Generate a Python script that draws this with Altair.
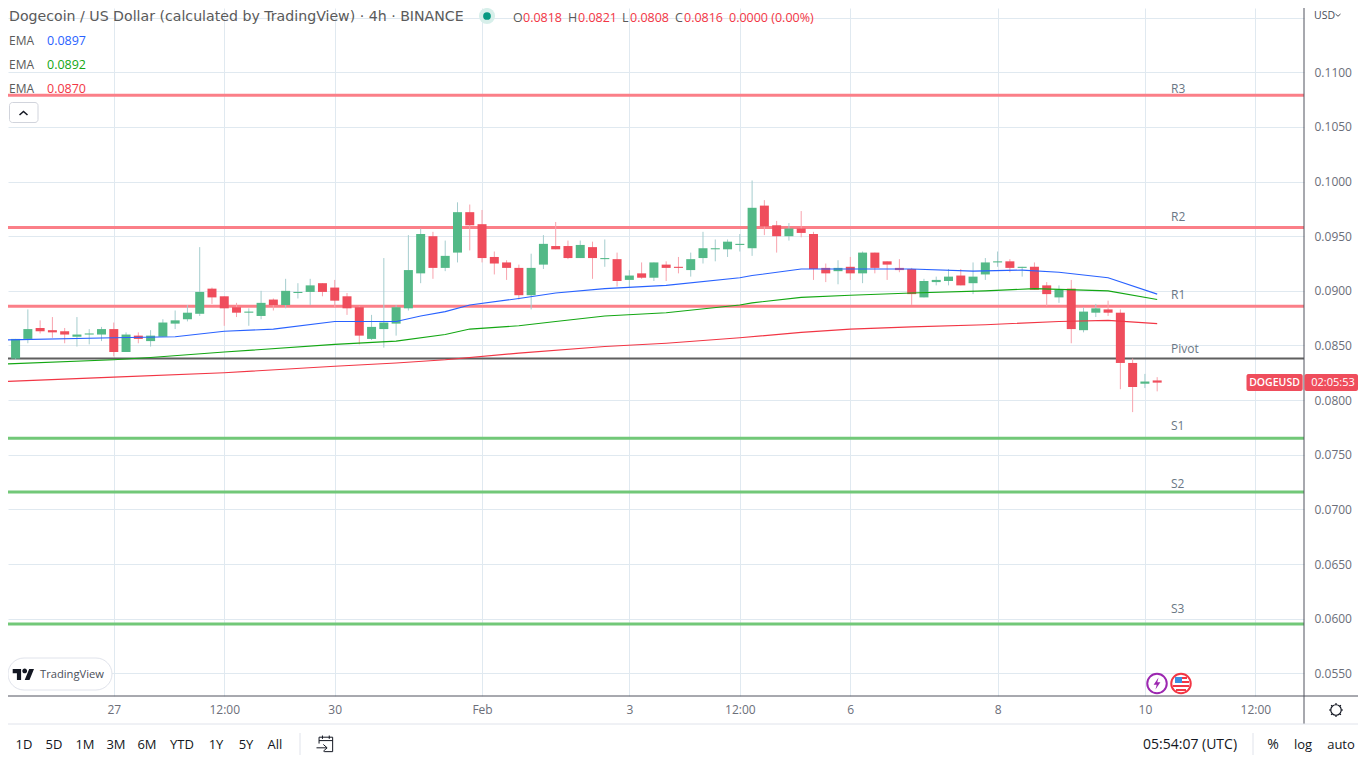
import altair as alt
import pandas as pd

FONT = "Open Sans"

# ---- OHLC (4h candles) ----
opens = [.0836,.0838,.0856,.0866,.0864,.0863,.0858,.0860,.0860,.0865,.0844,.0859,.0854,.0858,.0870,.0874,.0879,.0902,.0895,.0885,
         .0880,.0877,.0892,.0887,.0898,.0899,.0907,.0903,.0895,.0885,.0856,.0865,.0870,.0884,.0916,.0950,.0921,.0935,.0972,.0961,
         .0931,.0926,.0921,.0896,.0924,.0941,.0941,.0930,.0940,.0929,.0929,.0910,.0916,.0912,.0924,.0922,.0919,.0930,.0938,.0938,
         .0942,.0939,.0978,.0960,.0950,.0957,.0952,.0921,.0918,.0922,.0916,.0935,.0927,.0921,.0920,.0894,.0908,.0909,.0914,.0907,
         .0915,.0926,.0927,.0921,.0922,.0905,.0894,.0902,.0864,.0880,.0883,.0880,.0834,.0815,.0818]
highs = [.0851,.0856,.0883,.0873,.0876,.0866,.0876,.0865,.0867,.0871,.0862,.0862,.0864,.0874,.0882,.0887,.0940,.0903,.0895,.0889,
         .0884,.0900,.0893,.0911,.0907,.0911,.0907,.0910,.0898,.0886,.0878,.0930,.0887,.0951,.0957,.0954,.0946,.0981,.0979,.0974,
         .0936,.0928,.0924,.0934,.0951,.0963,.0946,.0946,.0945,.0947,.0935,.0919,.0926,.0926,.0927,.0931,.0935,.0954,.0947,.0947,
         .0952,.1001,.0983,.0964,.0962,.0973,.0954,.0925,.0928,.0931,.0936,.0935,.0927,.0929,.0921,.0911,.0913,.0920,.0920,.0926,
         .0930,.0936,.0929,.0922,.0926,.0908,.0905,.0910,.0885,.0888,.0891,.0883,.0838,.0824,.0821]
lows = [.0828,.0837,.0852,.0861,.0857,.0852,.0849,.0851,.0854,.0840,.0844,.0852,.0849,.0858,.0865,.0872,.0877,.0888,.0868,.0876,
        .0868,.0874,.0882,.0884,.0893,.0887,.0895,.0885,.0878,.0851,.0855,.0848,.0859,.0882,.0907,.0911,.0918,.0926,.0937,.0926,
        .0915,.0910,.0892,.0883,.0920,.0938,.0929,.0930,.0911,.0922,.0904,.0903,.0911,.0909,.0909,.0916,.0913,.0925,.0927,.0931,
        .0936,.0932,.0951,.0935,.0946,.0949,.0910,.0908,.0906,.0910,.0907,.0916,.0910,.0917,.0887,.0894,.0905,.0905,.0905,.0897,
        .0910,.0922,.0917,.0913,.0901,.0886,.0889,.0852,.0862,.0876,.0877,.0810,.0789,.0811,.0808]
closes = [.0839,.0856,.0865,.0863,.0862,.0860,.0860,.0861,.0865,.0844,.0860,.0856,.0859,.0871,.0873,.0880,.0899,.0894,.0884,.0880,
          .0881,.0889,.0887,.0900,.0899,.0905,.0899,.0891,.0884,.0859,.0867,.0871,.0885,.0919,.0952,.0921,.0932,.0972,.0960,.0930,
          .0925,.0921,.0896,.0921,.0943,.0938,.0930,.0942,.0930,.0930,.0909,.0914,.0912,.0926,.0921,.0921,.0929,.0939,.0939,.0945,
          .0943,.0976,.0959,.0950,.0957,.0953,.0920,.0916,.0921,.0916,.0935,.0921,.0924,.0919,.0897,.0909,.0910,.0913,.0905,.0913,
          .0926,.0927,.0921,.0922,.0901,.0897,.0901,.0865,.0881,.0884,.0880,.0834,.0812,.0817,.0816]

# ---- EMA lines: readings at single candles ----
ema_blue_i = [0,9,14,18,22,27,32,34,36,38,42,45,49,54,60,61,65,68,74,79,83,86,90,94]
ema_blue_v = [.0855,.0857,.0858,.0863,.0865,.0872,.0872,.0877,.0881,.0887,.0893,.0898,.0902,.0905,.0912,.0914,.0920,.0920,.0920,.0918,.0919,.0917,.0912,.0897]
ema_green_i = [0,9,12,18,27,32,36,38,42,45,49,54,60,61,65,69,74,80,84,90,94]
ema_green_v = [.0833,.0837,.0839,.0844,.0851,.0854,.0860,.0865,.0868,.0872,.0877,.0880,.0887,.0889,.0894,.0896,.0898,.0900,.0902,.0900,.0892]
ema_red_i = [0,9,18,27,32,36,42,49,54,60,65,69,74,80,86,90,94]
ema_red_v = [.0817,.0821,.0825,.0831,.0834,.0837,.0843,.0849,.0852,.0857,.0862,.0865,.0867,.0869,.0872,.0873,.0870]

# ---- pivot levels ----
res_names = ["R3", "R2", "R1"]
res_values = [.1079, .0958, .0886]
pivot_value = [.0838]
sup_names = ["S1", "S2", "S3"]
sup_values = [.0765, .0716, .0595]
label_names = ["R3", "R2", "R1", "Pivot", "S1", "S2", "S3"]
label_prices = [.10847, .09676, .08962, .08468, .07763, .07232, .06089]

# ---- axes ----
price_ticks = [.115, .11, .105, .10, .095, .09, .085, .08, .075, .07, .065, .06, .055]
time_idx = [9, 18, 27, 39, 51, 60, 69, 81, 93, 102]
time_lab = ["27", "12:00", "30", "Feb", "3", "12:00", "6", "8", "10", "12:00"]

ranges = ["1D", "5D", "1M", "3M", "6M", "YTD", "1Y", "5Y", "All"]
range_x = [24, 54, 85, 116, 147, 182, 216, 246, 275]

UP, DOWN, UPW, DOWNW = "#53b987", "#ef4d5c", "#a5cdce", "#f8a3ad"
LAB = "#6b6e79"
DARK = "#131722"
GRID = "#e0e9f0"

df = pd.DataFrame({"i": list(range(len(opens))), "o": opens, "h": highs, "l": lows, "c": closes})
df["dir"] = ["up" if c >= o else "down" for o, c in zip(opens, closes)]

xs = alt.Scale(domain=[0.383, 105.96], nice=False, zero=False, padding=0)
ys = alt.Scale(domain=[0.05292, 0.115885], nice=False, zero=False, padding=0)
one = alt.Data(values=[{"k": 1}])


def T(x, y, s, color=LAB, size=12, align="left", weight="normal", font=FONT):
    return alt.Chart(one).mark_text(text=s, color=color, fontSize=size, align=align, baseline="middle",
                                    fontWeight=weight, font=font).encode(x=alt.value(x - 8), y=alt.value(y - 8))


def R(x1, y1, x2, y2, **kw):
    return alt.Chart(one).mark_rect(**kw).encode(x=alt.value(x1 - 8), x2=alt.value(x2 - 8),
                                                 y=alt.value(y1 - 8), y2=alt.value(y2 - 8))


def P(x, y, shape, size, **kw):
    return alt.Chart(one).mark_point(shape=shape, size=size, **kw).encode(x=alt.value(x - 8), y=alt.value(y - 8))


def L(x1, y1, x2, y2, color, w=1):
    return alt.Chart(one).mark_rule(color=color, strokeWidth=w).encode(
        x=alt.value(x1 - 8), x2=alt.value(x2 - 8), y=alt.value(y1 - 8), y2=alt.value(y2 - 8))


label_expr = "{" + ",".join(f"'{i}':'{t}'" for i, t in zip(time_idx, time_lab)) + "}[datum.value]"
x_axis = alt.Axis(values=time_idx, labelExpr=label_expr, title=None, domain=False, ticks=False,
                  labelPadding=8, labelColor=LAB, labelFontSize=12, labelFont=FONT, labelOverlap=False,
                  labelFlush=False, grid=True, gridColor=GRID, gridWidth=1)
y_axis = alt.Axis(orient="right", values=price_ticks, title=None, domain=False, ticks=False,
                  labelExpr="datum.value > 0.114 ? '' : format(datum.value, '.4f')", labelPadding=10,
                  labelColor=LAB, labelFontSize=12, labelFont=FONT, labelOverlap=False, labelFlush=False,
                  grid=True, gridColor=GRID, gridWidth=1)

color_wick = alt.Color("dir:N", scale=alt.Scale(domain=["up", "down"], range=[UPW, DOWNW]), legend=None)
color_body = alt.Color("dir:N", scale=alt.Scale(domain=["up", "down"], range=[UP, DOWN]), legend=None)

axes_layer = alt.Chart(df).mark_rule(opacity=0).encode(
    x=alt.X("i:Q", scale=xs, axis=x_axis), y=alt.Y("l:Q", scale=ys, axis=y_axis), y2="h:Q")
wicks = alt.Chart(df).mark_rule(strokeWidth=1, clip=True).encode(
    x=alt.X("i:Q", scale=xs, axis=None), y=alt.Y("l:Q", scale=ys, axis=None), y2="h:Q", color=color_wick)
bodies = alt.Chart(df).mark_bar(size=9, clip=True).encode(
    x=alt.X("i:Q", scale=xs, axis=None), y=alt.Y("o:Q", scale=ys, axis=None), y2="c:Q", color=color_body)


def ema(idx, vals, color):
    d = pd.DataFrame({"i": idx, "v": vals})
    return alt.Chart(d).mark_line(color=color, strokeWidth=1.1, clip=True).encode(
        x=alt.X("i:Q", scale=xs, axis=None), y=alt.Y("v:Q", scale=ys, axis=None))


def level(vals, color, w):
    d = pd.DataFrame({"v": vals})
    return alt.Chart(d).mark_rule(color=color, strokeWidth=w).encode(
        x=alt.value(0), x2=alt.value(1296), y=alt.Y("v:Q", scale=ys, axis=None))


level_labels = alt.Chart(pd.DataFrame({"t": label_names, "v": label_prices})).mark_text(
    align="left", baseline="middle", color="#6a7785", fontSize=12, font=FONT).encode(
    x=alt.value(1171 - 8), y=alt.Y("v:Q", scale=ys, axis=None), text="t:N")

layers = [
    axes_layer,
    level(res_values, "#fb7f88", 3),
    level(sup_values, "#72c878", 3),
    level(pivot_value, "#5f5f5f", 2),
    wicks, bodies,
    ema(ema_red_i, ema_red_v, "#f23645"),
    ema(ema_green_i, ema_green_v, "#13a713"),
    ema(ema_blue_i, ema_blue_v, "#2962ff"),
    level_labels,
    # legend veil and header
    R(8, 74, 92, 92, color="white", opacity=0.5),
    T(9, 17, "Dogecoin / US Dollar (calculated by TradingView) · 4h · BINANCE", "#5a5a5a", 14.15, font="DejaVu Sans"),
    P(487, 16, "circle", 260, filled=True, color="#d7efea", opacity=1),
    P(487, 16, "circle", 60, filled=True, color="#089981", opacity=1),
]
for x, s, c in [(513, "O", "#5a5a5a"), (523, "0.0818", "#f23645"), (568, "H", "#5a5a5a"), (578, "0.0821", "#f23645"),
                (622, "L", "#5a5a5a"), (630, "0.0808", "#f23645"), (675, "C", "#5a5a5a"), (684, "0.0816", "#f23645"),
                (729, "0.0000 (0.00%)", "#f23645")]:
    layers.append(T(x, 17.5, s, c, 12.5))
for y, v, c in [(41, "0.0897", "#2962ff"), (65, "0.0892", "#13a713"), (89, "0.0870", "#f23645")]:
    layers.append(T(9, y, "EMA", "#5a5a5a", 12))
    layers.append(T(47, y, v, c, 12.5))

# collapse button
layers += [
    R(9.5, 102.5, 38, 122.5, fill="white", stroke="#d1d4dc", strokeWidth=1, cornerRadius=3),
    P(23.5, 113, "M-1,.5L0,-.4L1,.5", 64, filled=False, color=DARK, strokeWidth=1.5, opacity=1),
]

# logo
logo_path = ("M-.222,.5H-.611V-.111H-1V-.5H-.222Z M.556,.5H.111L.528,-.5H.972Z "
             "M-.111,-.333a.222,.222 0 1,0 .444,0a.222,.222 0 1,0 -.444,0Z")
layers += [
    R(8, 658, 112, 690, fill="white", stroke="#e0e3eb", strokeWidth=1, cornerRadius=16),
    P(23.5, 674.5, logo_path, 466, filled=True, color=DARK, opacity=1, strokeWidth=0),
    T(40, 674.5, "TradingView", "#4a4e59", 11.2, weight=500),
]

# event icons
layers += [
    P(1157, 683.5, "circle", 380, filled=True, fill="white", stroke="#9c27b0", strokeWidth=2, opacity=1),
    P(1157, 683.5, "M.25,-1L-.55,.2H-.05L-.25,1L.55,-.2H.05Z", 150, filled=True, color="#9c27b0", opacity=1, strokeWidth=0),
    P(1181, 683.5, "circle", 380, filled=True, fill="white", stroke="#f23645", strokeWidth=2, opacity=1),
    R(1175, 677, 1182, 683, color="#3d8fe0"),
    R(1182, 677, 1187, 679, color="#f23645"),
    R(1182, 681, 1189, 683, color="#f23645"),
    R(1173, 685, 1189, 687, color="#f23645"),
    R(1176, 689, 1186, 691, color="#f23645"),
]

# frame lines
layers += [
    L(8, 696, 1358, 696, "#50535e"),
    L(1304, 8, 1304, 724, "#50535e"),
    L(8, 724, 1358, 724, "#e0e3eb"),
]

# price tags
layers += [
    R(1246.5, 374, 1302.7, 391, color="#ef4d5c", cornerRadius=2),
    R(1304.5, 374, 1358, 391, color="#ef4d5c", cornerRadius=2),
    T(1274.5, 383, "DOGEUSD", "white", 10.5, align="center", weight=600),
    T(1333, 383, "02:05:53", "white", 11, align="center", weight=500),
    T(1314, 16, "USD", "#4a4e59", 10.5),
    P(1338, 15, "M-1,-.4L0,.5L1,-.4", 25, filled=False, color="#4a4e59", strokeWidth=1, opacity=1),
]

# settings icon
layers += [
    P(1336, 710, "circle", 110, filled=False, color=DARK, strokeWidth=1.2, opacity=1),
    P(1336, 710, "M0,-1V-.75M0,1V.75M-1,0H-.75M1,0H.75M-.7,-.7L-.55,-.55M.7,.7L.55,.55M-.7,.7L-.55,.55M.7,-.7L.55,-.55",
      196, filled=False, color=DARK, strokeWidth=1.2, opacity=1),
]

# bottom toolbar
for x, s in zip(range_x, ranges):
    layers.append(T(x, 745, s, DARK, 13, align="center"))
layers += [
    L(300, 733, 300, 755, "#e0e3eb"),
    P(325, 744, "M-.7,-.05V-.8H.9V.9H-.1M-.7,-.4H.9M-.3,-1V-.6M.5,-1V-.6M-1,.45H.2M-.2,.05L.25,.45L-.2,.85",
      289, filled=False, color=DARK, strokeWidth=1, opacity=1),
    T(1143, 745, "05:54:07 (UTC)", DARK, 14),
    L(1253, 733, 1253, 755, "#e0e3eb"),
    T(1273, 745, "%", DARK, 14, align="center"),
    T(1303, 745, "log", DARK, 13, align="center"),
    T(1341, 745, "auto", DARK, 13, align="center"),
]

chart = alt.layer(*layers).properties(
    width=1296, height=688,
    padding={"left": 0, "top": 0, "right": 54, "bottom": 64},
    autosize=alt.AutoSizeParams(type="none"),
    background="white",
).resolve_scale(color="independent").resolve_axis(x="independent", y="independent").configure_view(strokeWidth=0)

chart.save("out.html", embed_options={"renderer": "svg", "actions": False})
